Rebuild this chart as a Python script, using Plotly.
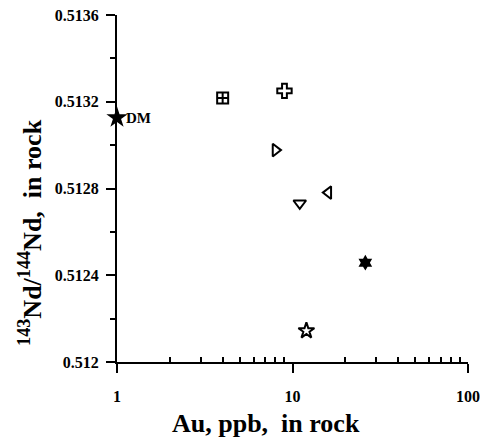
import plotly.graph_objects as go

# data
labels = ["DM", "A", "B", "C", "D", "E", "F", "G"]
au_ppb = [1, 4, 9, 8, 11, 16, 26, 12]
nd_ratio = [0.513126, 0.513217, 0.51325, 0.512977, 0.512732, 0.512781, 0.512458, 0.512144]
symbols = ["star", "square-cross-open", "cross-open", "triangle-right-open",
           "triangle-down-open", "triangle-left-open", "hexagram", "star-open"]
sizes = [16, 11, 12, 11, 11, 11, 12, 12]

x_tickvals = [1, 10, 100]
x_ticktext = ["1", "10", "100"]
x_minor = [2, 3, 4, 5, 6, 7, 8, 9, 20, 30, 40, 50, 60, 70, 80, 90]
y_tickvals = [0.512, 0.5124, 0.5128, 0.5132, 0.5136]
y_ticktext = ["0.512", "0.5124", "0.5128", "0.5132", "0.5136"]

serif = "Liberation Serif"

fig = go.Figure()
for i in range(len(au_ppb)):
    fig.add_trace(go.Scatter(
        x=[au_ppb[i]], y=[nd_ratio[i]], mode="markers",
        marker=dict(symbol=symbols[i], size=sizes[i], color="black",
                    line=dict(color="black", width=2 if "open" in symbols[i] else 0)),
        cliponaxis=False, showlegend=False))

fig.add_annotation(x=0, y=nd_ratio[0], xref="x", yref="y", text="DM",
                   showarrow=False, xanchor="left", yanchor="middle", xshift=7,
                   font=dict(family=serif, size=15, color="black", weight=700))

fig.add_annotation(x=0.4245, y=-0.177, xref="paper", yref="paper",
                   text="<b>Au, ppb,&nbsp; in rock</b>", showarrow=False,
                   xanchor="center", yanchor="middle",
                   font=dict(family=serif, size=26, color="black", weight=700))
fig.add_annotation(x=-0.245, y=0.372, xref="paper", yref="paper",
                   text="<b><sup>143</sup>Nd/<sup>144</sup>Nd,&nbsp; in rock</b>", showarrow=False,
                   textangle=-90, xanchor="center", yanchor="middle",
                   font=dict(family=serif, size=26, color="black", weight=700))

tfont = dict(family=serif, size=16, color="black", weight=700)

fig.update_layout(
    width=480, height=442, margin=dict(l=117, r=12, t=15, b=80),
    font=dict(family=serif, size=16, color="black"),
    plot_bgcolor="white", paper_bgcolor="white",
    xaxis=dict(type="log", range=[0, 2], tickmode="array", tickvals=x_tickvals,
               ticktext=x_ticktext, tickfont=tfont,
               automargin=False, ticklabelstandoff=10,
               showline=True, linewidth=2, linecolor="black",
               ticks="outside", ticklen=9, tickwidth=2, tickcolor="black",
               showgrid=False, zeroline=False,
               minor=dict(tickmode="array", tickvals=x_minor, ticks="inside",
                          ticklen=5, tickwidth=2, tickcolor="black", showgrid=False)),
    yaxis=dict(range=[0.512, 0.5136], tickmode="array", tickvals=y_tickvals,
               ticktext=y_ticktext, tickfont=tfont,
               automargin=False, ticklabelstandoff=4,
               showline=True, linewidth=2, linecolor="black",
               ticks="outside", ticklen=9, tickwidth=2, tickcolor="black",
               showgrid=False, zeroline=False,
               minor=dict(dtick=0.0002, ticks="outside", ticklen=5, tickwidth=2,
                          tickcolor="black", showgrid=False)),
)
fig.write_html("out.html")
